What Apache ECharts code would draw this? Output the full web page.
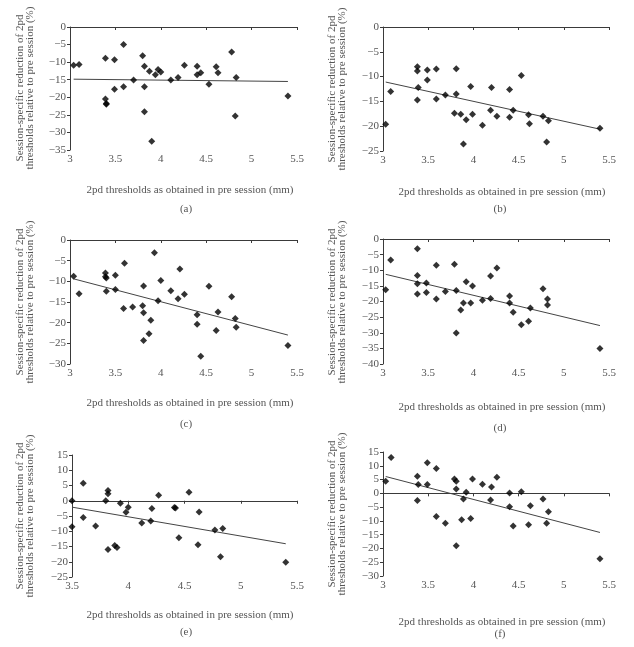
<!DOCTYPE html>
<html><head><meta charset="utf-8">
<script src="https://cdn.jsdelivr.net/npm/echarts@6/dist/echarts.min.js"></script>
<style>html,body{margin:0;padding:0;background:#fff}#c{width:634px;height:647px}</style>
</head><body><div id="c"></div>
<script>
// ---- text ----
const panelLabels = ['(a)', '(b)', '(c)', '(d)', '(e)', '(f)'];
const xTitle = '2pd thresholds as obtained in pre session (mm)';
const yTitle = 'Session-specific reduction of 2pd\nthresholds relative to pre session (%)';

// ---- axis ranges ----
const xMins = [3, 3, 3, 3, 3.5, 3];
const xMaxs = [5.5, 5.5, 5.5, 5.5, 5.5, 5.5];
const yMins = [-35, -25, -30, -40, -25, -30];
const yMaxs = [0, 0, 0, 0, 15, 15];

// ---- panel (a) ----
const aX = [3.04, 3.10, 3.39, 3.39, 3.40, 3.40, 3.49, 3.49, 3.59, 3.59, 3.70, 3.80, 3.82, 3.82, 3.82, 3.875, 3.90, 3.94, 3.97, 4.00, 4.11, 4.19, 4.26, 4.40, 4.40, 4.44, 4.53, 4.61, 4.63, 4.78, 4.82, 4.83, 5.40];
const aY = [-10.9, -10.7, -8.9, -20.5, -21.8, -22.0, -9.3, -17.7, -5.0, -17.0, -15.1, -8.2, -11.2, -17.0, -24.1, -12.6, -32.5, -13.6, -12.1, -12.8, -15.1, -14.4, -10.9, -11.2, -13.6, -13.0, -16.3, -11.3, -13.0, -7.1, -25.3, -14.4, -19.6];
const aTrendX = [3.04, 5.40];
const aTrendY = [-14.85, -15.5];

// ---- panel (b) ----
const bX = [3.03, 3.085, 3.38, 3.38, 3.39, 3.38, 3.49, 3.49, 3.59, 3.59, 3.69, 3.81, 3.81, 3.79, 3.86, 3.92, 3.89, 3.97, 3.99, 4.10, 4.19, 4.20, 4.26, 4.40, 4.40, 4.44, 4.53, 4.61, 4.62, 4.77, 4.81, 4.83, 5.40];
const bY = [-19.6, -13.0, -8.0, -8.85, -12.2, -14.7, -8.65, -10.7, -8.45, -14.5, -13.7, -8.4, -13.5, -17.4, -17.6, -18.7, -23.6, -12.0, -17.6, -19.8, -16.8, -12.2, -18.0, -12.6, -18.2, -16.8, -9.8, -17.7, -19.5, -18.0, -23.2, -18.9, -20.4];
const bTrendX = [3.03, 5.40];
const bTrendY = [-11.1, -20.6];

// ---- panel (c) ----
const cX = [3.04, 3.10, 3.39, 3.39, 3.40, 3.40, 3.50, 3.50, 3.60, 3.59, 3.69, 3.80, 3.81, 3.81, 3.81, 3.87, 3.89, 3.93, 3.97, 4.00, 4.11, 4.19, 4.21, 4.26, 4.40, 4.40, 4.44, 4.53, 4.61, 4.63, 4.78, 4.82, 4.83, 5.40];
const cY = [-8.8, -13.0, -8.0, -8.9, -9.2, -12.4, -8.5, -12.0, -5.6, -16.6, -16.2, -15.9, -11.1, -17.6, -24.3, -22.7, -19.4, -3.1, -14.7, -9.8, -12.3, -14.2, -7.0, -13.1, -18.1, -20.4, -28.1, -11.2, -21.9, -17.4, -13.7, -19.0, -21.1, -25.5];
const cTrendX = [3.04, 5.40];
const cTrendY = [-9.4, -23.0];

// ---- panel (d) ----
const dX = [3.03, 3.085, 3.38, 3.38, 3.38, 3.38, 3.48, 3.48, 3.59, 3.59, 3.69, 3.79, 3.81, 3.81, 3.86, 3.89, 3.92, 3.97, 3.99, 4.10, 4.19, 4.19, 4.26, 4.40, 4.40, 4.44, 4.53, 4.61, 4.63, 4.77, 4.82, 4.82, 5.40];
const dY = [-16.2, -6.7, -3.1, -11.7, -14.3, -17.6, -14.1, -17.1, -8.4, -19.2, -16.8, -8.1, -16.5, -30.1, -22.7, -20.5, -13.7, -20.5, -15.0, -19.6, -11.8, -19.0, -9.3, -18.2, -20.5, -23.4, -27.4, -26.3, -22.1, -15.9, -21.1, -19.2, -35.0];
const dTrendX = [3.03, 5.40];
const dTrendY = [-11.3, -27.7];

// ---- panel (e) ----
const eX = [3.50, 3.50, 3.60, 3.60, 3.71, 3.80, 3.82, 3.82, 3.82, 3.88, 3.90, 3.93, 3.98, 4.00, 4.12, 4.20, 4.21, 4.27, 4.41, 4.42, 4.45, 4.54, 4.62, 4.63, 4.77, 4.82, 4.84, 5.40];
const eY = [0.0, -8.5, 5.7, -5.5, -8.3, 0.0, 2.3, 3.4, -16.0, -14.7, -15.3, -0.8, -3.8, -2.1, -7.3, -6.6, -2.5, 1.8, -2.2, -2.4, -12.1, 2.8, -14.4, -3.7, -9.6, -18.4, -9.1, -20.2];
const eTrendX = [3.50, 5.40];
const eTrendY = [-2.1, -14.1];

// ---- panel (f) ----
const fX = [3.03, 3.09, 3.38, 3.39, 3.38, 3.49, 3.49, 3.59, 3.59, 3.69, 3.79, 3.81, 3.81, 3.81, 3.87, 3.89, 3.92, 3.97, 3.99, 4.10, 4.19, 4.20, 4.26, 4.40, 4.40, 4.44, 4.53, 4.61, 4.63, 4.77, 4.81, 4.83, 5.40];
const fY = [4.4, 13.0, 6.2, 3.2, -2.6, 11.1, 3.2, 9.0, -8.4, -10.9, 5.2, 4.4, 1.6, -19.0, -9.6, -2.1, 0.4, -9.1, 5.2, 3.3, -2.4, 2.3, 5.8, 0.1, -4.9, -11.9, 0.6, -11.4, -4.5, -2.1, -10.9, -6.7, -23.7];
const fTrendX = [3.03, 5.40];
const fTrendY = [6.1, -14.2];

const panelsX = [aX, bX, cX, dX, eX, fX];
const panelsY = [aY, bY, cY, dY, eY, fY];
const trendsX = [aTrendX, bTrendX, cTrendX, dTrendX, eTrendX, fTrendX];
const trendsY = [aTrendY, bTrendY, cTrendY, dTrendY, eTrendY, fTrendY];

// ---- layout (pixels) ----
const boxes = [
  {left: 70, top: 27, width: 227, height: 123},
  {left: 383, top: 27, width: 226, height: 124},
  {left: 70, top: 240, width: 227, height: 124},
  {left: 383, top: 239, width: 226, height: 125},
  {left: 72, top: 455, width: 225, height: 122},
  {left: 383, top: 452, width: 226, height: 124}
];
const xTitlePos = [[190, 190], [502, 192], [190, 403], [502, 407], [190, 615], [502, 622]];
const capPos = [[186, 209], [500, 209], [186, 424], [500, 428], [186, 632], [500, 634]];
const yTitlePos = [[25.5, 88], [337, 89], [25.5, 302], [337, 302], [25, 516], [337, 514]];

const FONT = '"Liberation Serif", "DejaVu Serif", serif';
const TXT = '#555';
const AX = '#3a3a3a';
const minusFmt = v => String(v).replace('-', '\u2212');

const grid = [], xAxis = [], yAxis = [], series = [], graphic = [];
boxes.forEach((b, i) => {
  grid.push(Object.assign({containLabel: false}, b));
  // label axis at bottom
  xAxis.push({
    type: 'value', gridIndex: i, position: 'bottom',
    min: xMins[i], max: xMaxs[i], interval: 0.5,
    axisLine: {show: false, onZero: false}, axisTick: {show: false},
    splitLine: {show: false},
    axisLabel: {color: TXT, fontFamily: FONT, fontSize: 11, margin: 4}
  });
  // zero line axis
  xAxis.push({
    type: 'value', gridIndex: i, position: 'bottom',
    min: xMins[i], max: xMaxs[i], interval: 0.5,
    axisLine: {show: true, onZero: true, lineStyle: {color: AX, width: 1}},
    axisTick: {show: true, length: 3, lineStyle: {color: AX}},
    axisLabel: {show: false}, splitLine: {show: false}
  });
  yAxis.push({
    type: 'value', gridIndex: i,
    min: yMins[i], max: yMaxs[i], interval: 5,
    axisLine: {show: true, onZero: false, lineStyle: {color: AX, width: 1}},
    axisTick: {show: true, length: 3, lineStyle: {color: AX}},
    splitLine: {show: false},
    axisLabel: {color: TXT, fontFamily: FONT, fontSize: 11, margin: 4, formatter: minusFmt}
  });
  series.push({
    type: 'scatter', xAxisIndex: 2 * i, yAxisIndex: i,
    symbol: 'diamond', symbolSize: 7,
    itemStyle: {color: '#000'},
    data: panelsX[i].map((x, k) => [x, panelsY[i][k]]),
    z: 3
  });
  series.push({
    type: 'line', xAxisIndex: 2 * i, yAxisIndex: i,
    showSymbol: false, symbol: 'none',
    lineStyle: {color: '#444', width: 1},
    data: trendsX[i].map((x, k) => [x, trendsY[i][k]]),
    z: 2
  });
  graphic.push({
    type: 'text', x: xTitlePos[i][0], y: xTitlePos[i][1],
    style: {text: xTitle, fill: TXT, font: '11px ' + FONT, align: 'center', verticalAlign: 'middle'}
  });
  graphic.push({
    type: 'text', x: capPos[i][0], y: capPos[i][1],
    style: {text: panelLabels[i], fill: TXT, font: '11px ' + FONT, align: 'center', verticalAlign: 'middle'}
  });
  graphic.push({
    type: 'text', x: yTitlePos[i][0], y: yTitlePos[i][1], rotation: Math.PI / 2,
    style: {text: yTitle, fill: TXT, font: '11px ' + FONT, align: 'center', verticalAlign: 'middle', lineHeight: 10}
  });
});

const chart = echarts.init(document.getElementById('c'), null, {renderer: 'canvas'});
chart.setOption({
  animation: false,
  backgroundColor: '#fff',
  grid, xAxis, yAxis, series, graphic
});
</script>
</body></html>
